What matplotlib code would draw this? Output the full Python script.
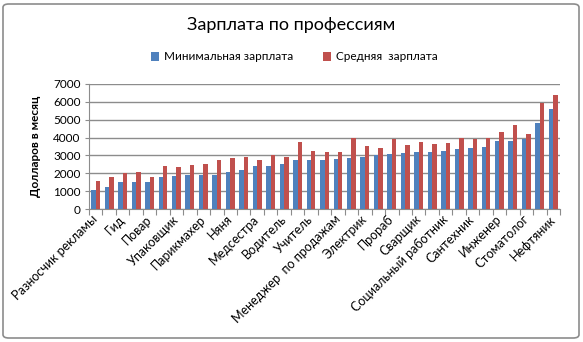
import matplotlib
matplotlib.use('Agg')
import matplotlib.pyplot as plt
import numpy as np
from matplotlib.patches import FancyBboxPatch

plt.rcParams['font.family'] = ['Lato', 'Open Sans', 'DejaVu Sans']

# подписи показаны через одну, всего 35 профессий
tick_labels = ['Разносчик рекламы', 'Гид', 'Повар', 'Упаковщик', 'Парикмахер', 'Няня',
               'Медсестра', 'Водитель', 'Учитель', 'Менеджер  по продажам', 'Электрик',
               'Прораб', 'Сварщик', 'Социальный работник', 'Сантехник', 'Инженер',
               'Стоматолог', 'Нефтяник']

min_salary = [1080, 1210, 1530, 1530, 1530, 1810, 1860, 1920, 1920, 1920,
              2090, 2200, 2420, 2420, 2530, 2720, 2760, 2760, 2810, 2870,
              2920, 3020, 3090, 3150, 3200, 3200, 3260, 3370, 3430, 3480,
              3820, 3820, 3930, 4820, 5610]
avg_salary = [1580, 1810, 1990, 2090, 1810, 2420, 2360, 2480, 2530, 2720,
              2870, 2920, 2760, 3040, 2920, 3780, 3260, 3200, 3200, 3990,
              3540, 3430, 3930, 3590, 3760, 3650, 3710, 3990, 3930, 3990,
              4320, 4710, 4210, 5940, 6390]

W, H = 583, 342
fig = plt.figure(figsize=(W / 100, H / 100), dpi=100)

# рамка вокруг диаграммы
frame = FancyBboxPatch((3 / W, 4 / H), 576 / W, 334 / H, boxstyle='round,pad=0,rounding_size=0.01',
                       transform=fig.transFigure, facecolor='none', edgecolor='#8c8c8c', lw=1.2)
fig.patches.append(frame)

ax = fig.add_axes([89 / W, 1 - 209 / H, 471 / W, 125 / H])

x = np.arange(len(min_salary))
bw = 0.33
ax.bar(x - bw / 2, min_salary, bw, color='#4F81BD', label='Минимальная зарплата', zorder=3)
ax.bar(x + bw / 2, avg_salary, bw, color='#C0504D', label='Средняя  зарплата', zorder=3)

ax.set_xlim(-0.5, len(x) - 0.5)
ax.set_ylim(0, 7000)
ax.set_yticks(np.arange(0, 7001, 1000))
ax.yaxis.grid(True, color='#8c8c8c', lw=1, zorder=0)
ax.tick_params(axis='y', labelsize=8.5, length=3, color='#8c8c8c', pad=3)

# деления между группами, подписи под каждой второй группой
ax.set_xticks(np.arange(-0.5, len(x), 1))
ax.set_xticklabels([])
ax.tick_params(axis='x', which='major', length=4, color='#8c8c8c')
ax.set_xticks(np.arange(0, len(x), 2), minor=True)
ax.set_xticklabels(tick_labels, minor=True, rotation=45, ha='right', va='center',
                   rotation_mode='anchor', fontsize=9)
ax.tick_params(axis='x', which='minor', length=0, pad=6)

for s in ['top', 'right']:
    ax.spines[s].set_visible(False)
for s in ['left', 'bottom']:
    ax.spines[s].set_color('#8c8c8c')

ax.set_ylabel('Долларов в месяц', fontsize=8.5, fontweight='bold', labelpad=9)

fig.text(0.5, 1 - 25 / H, 'Зарплата по профессиям', ha='center', va='center', fontsize=13)
fig.legend(loc='center', bbox_to_anchor=(0.505, 1 - 57 / H), ncol=2, frameon=False,
           fontsize=8.5, handlelength=0.7, handleheight=0.7, handletextpad=0.4,
           columnspacing=2.5)

fig.savefig('out.png', dpi=100)
